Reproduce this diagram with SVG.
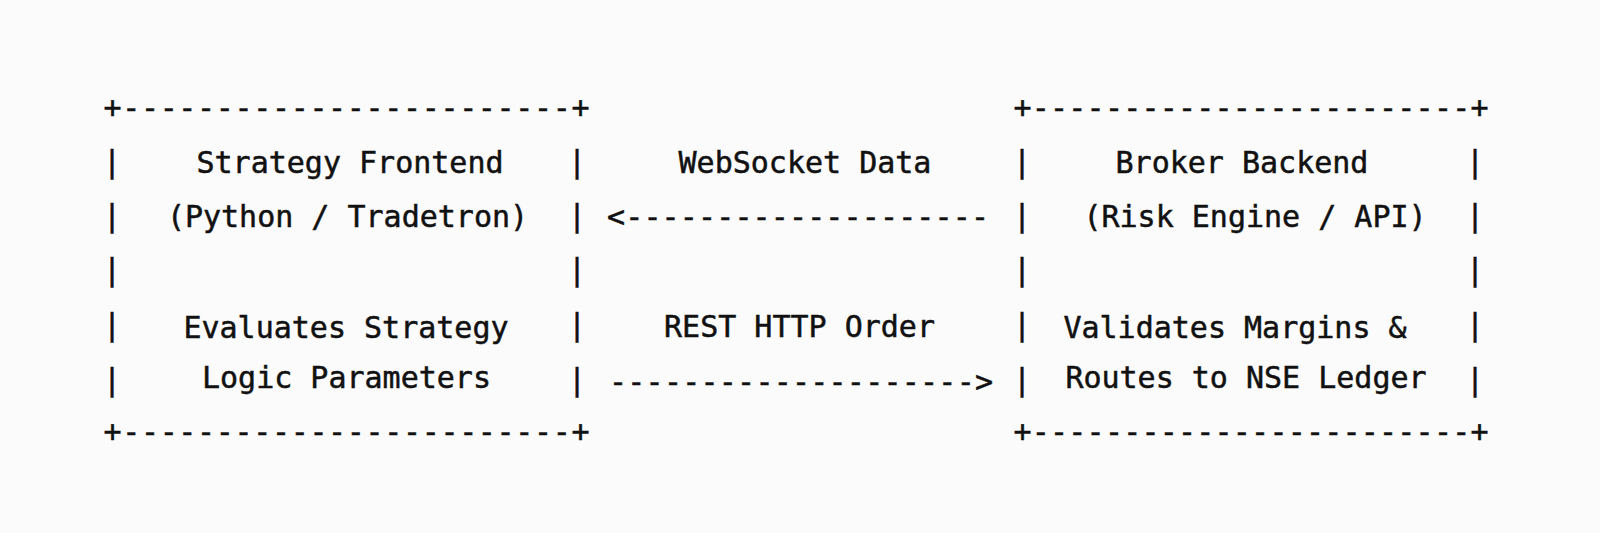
<svg xmlns="http://www.w3.org/2000/svg" width="1600" height="533" viewBox="0 0 1600 533">
  <style>
    .t { font-family: "DejaVu Sans Mono", "Liberation Mono", monospace; font-size: 30px; fill: #111111; stroke: #111111; stroke-width: 0.5px; text-anchor: middle; }
  </style>
  <rect x="0" y="0" width="1600" height="533" fill="#fbfbfb"/>

  <g id="strategy-frontend">
    <text class="t" x="346.5" y="118" textLength="486" lengthAdjust="spacing">+------------------------+</text>
    <text class="t" x="112" y="172">|</text>
    <text class="t" x="112" y="226">|</text>
    <text class="t" x="112" y="280">|</text>
    <text class="t" x="112" y="335">|</text>
    <text class="t" x="112" y="390">|</text>
    <text class="t" x="577" y="172">|</text>
    <text class="t" x="577" y="226">|</text>
    <text class="t" x="577" y="280">|</text>
    <text class="t" x="577" y="335">|</text>
    <text class="t" x="577" y="390">|</text>
    <text class="t" x="350" y="173">Strategy Frontend</text>
    <text class="t" x="347.5" y="227">(Python / Tradetron)</text>
    <text class="t" x="346" y="338">Evaluates Strategy</text>
    <text class="t" x="346.5" y="388">Logic Parameters</text>
    <text class="t" x="346.5" y="442" textLength="486" lengthAdjust="spacing">+------------------------+</text>
  </g>

  <g id="broker-backend">
    <text class="t" x="1251" y="118" textLength="475" lengthAdjust="spacing">+------------------------+</text>
    <text class="t" x="1022" y="172">|</text>
    <text class="t" x="1022" y="226">|</text>
    <text class="t" x="1022" y="280">|</text>
    <text class="t" x="1022" y="335">|</text>
    <text class="t" x="1022" y="390">|</text>
    <text class="t" x="1475" y="172">|</text>
    <text class="t" x="1475" y="226">|</text>
    <text class="t" x="1475" y="280">|</text>
    <text class="t" x="1475" y="335">|</text>
    <text class="t" x="1475" y="390">|</text>
    <text class="t" x="1242" y="173">Broker Backend</text>
    <text class="t" x="1255" y="227">(Risk Engine / API)</text>
    <text class="t" x="1235" y="338">Validates Margins &amp;</text>
    <text class="t" x="1246" y="388">Routes to NSE Ledger</text>
    <text class="t" x="1251" y="442" textLength="475" lengthAdjust="spacing">+------------------------+</text>
  </g>

  <g id="connectors">
    <text class="t" x="805" y="173">WebSocket Data</text>
    <text class="t" x="798" y="227" textLength="382" lengthAdjust="spacing">&lt;--------------------</text>
    <text class="t" x="799.5" y="337">REST HTTP Order</text>
    <text class="t" x="801" y="392" textLength="384" lengthAdjust="spacing">--------------------&gt;</text>
  </g>
</svg>
